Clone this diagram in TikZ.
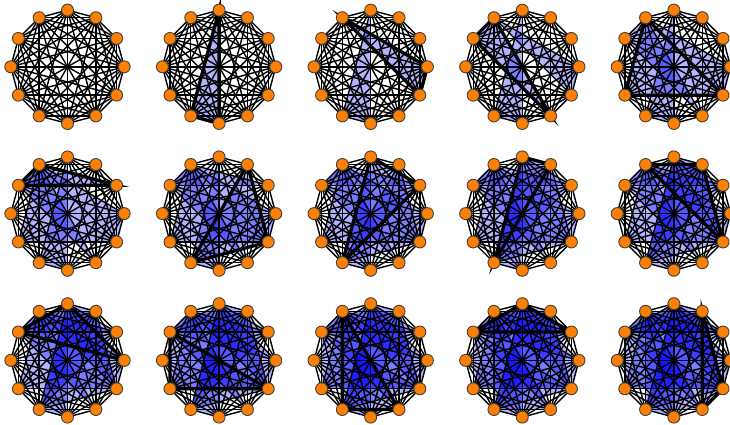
\documentclass[tikz,border=0pt]{standalone}
\usepackage{xcolor}
\definecolor{vertexfill}{RGB}{255,128,0}
\definecolor{facefill}{RGB}{0,0,255}
\pgfdeclarelayer{faces}
\pgfdeclarelayer{edges}
\pgfsetlayers{faces,edges,main}
\tikzset{
  vertex/.style={circle,draw=black!75,line width=0.9pt,fill=vertexfill,minimum size=12pt,inner sep=0pt},
  edge/.style={black,line width=1.4pt},
  face/.style={fill=facefill,fill opacity=0.3},
  newface/.style={black,line width=3.3pt,line join=miter}
}
% one triangle is added per panel, in reading order
\def\facelist{0/6/7,11/3/4,10/11/5,11/4/8,10/11/2,1/4/7,0/2/7,0/1/7,11/1/4,10/0/3,10/8/4,11/5/7,10/0/2,1/4/5}

\begin{document}
\begin{tikzpicture}[x=1pt,y=-1pt]
  \useasboundingbox (0,0) rectangle (730,424);
  \foreach \panel in {0,...,14} {
    \pgfmathsetmacro{\cx}{67.5+151.6*mod(\panel,5)}
    \pgfmathsetmacro{\cy}{66.8+146.8*floor(\panel/5)}
    % vertices, clockwise from the top
    \foreach \i in {0,...,11} {
      \node[vertex] (p\panel v\i) at ({\cx+56.7*sin(30*\i)},{\cy-56.7*cos(30*\i)}) {};
    }
    % complete graph
    \begin{pgfonlayer}{edges}
      \foreach \i in {0,...,10} {
        \pgfmathtruncatemacro{\nexti}{\i+1}
        \foreach \j in {\nexti,...,11} {
          \draw[edge] (p\panel v\i.center) -- (p\panel v\j.center);
        }
      }
    \end{pgfonlayer}
    % triangles so far, the last one outlined
    \foreach \a/\b/\c [count=\t] in \facelist {
      \ifnum\t>\panel\else
        \begin{pgfonlayer}{faces}
          \fill[face] (p\panel v\a.center) -- (p\panel v\b.center) -- (p\panel v\c.center) -- cycle;
        \end{pgfonlayer}
      \fi
      \ifnum\t=\panel
        \begin{pgfonlayer}{edges}
          \draw[newface] (p\panel v\a.center) -- (p\panel v\b.center) -- (p\panel v\c.center) -- cycle;
        \end{pgfonlayer}
      \fi
    }
  }
\end{tikzpicture}
\end{document}
